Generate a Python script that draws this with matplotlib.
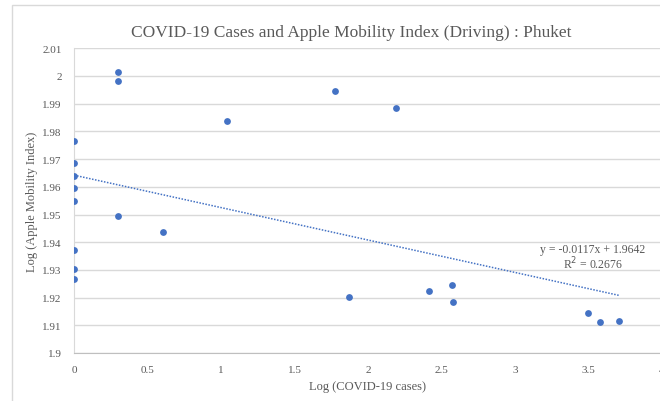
import matplotlib
matplotlib.use("Agg")
import matplotlib.pyplot as plt
from matplotlib.patches import Rectangle
from matplotlib.ticker import FuncFormatter, MultipleLocator
import numpy as np

# Log10 of COVID-19 cases vs log10 of Apple mobility (driving), Phuket
log_cases = [0, 0, 0, 0, 0, 0, 0, 0,
             0.301, 0.301, 0.301, 0.602, 1.043,
             1.778, 1.871, 2.193, 2.416, 2.570, 2.581,
             3.496, 3.578, 3.711]
log_mobility = [1.9767, 1.9687, 1.9640, 1.9596, 1.9548, 1.9371, 1.9303, 1.9266,
                2.0013, 1.9983, 1.9494, 1.9437, 1.9838,
                1.9946, 1.9201, 1.9886, 1.9224, 1.9244, 1.9184,
                1.9143, 1.9111, 1.9117]

# trendline as reported on the chart
slope = -0.0117
intercept = 1.9642
r_squared = 0.2676

blue = "#4472C4"
grey_text = "#595959"
font = "Liberation Serif"

fig = plt.figure(figsize=(6.6, 4.02), dpi=100)

# outer chart border (the screenshot is cropped at right and bottom)
fig.patches.append(Rectangle((12 / 660, -0.05), 1.2, 0.985 + 0.05,
                             transform=fig.transFigure, fill=False,
                             edgecolor="#d9d9d9", linewidth=1.0))

ax = fig.add_axes([74.1 / 660, 48 / 402, 587.6 / 660, 304.7 / 402])

ax.scatter(log_cases, log_mobility, s=24, color=blue, zorder=3, linewidths=0)

x_fit = np.array([0, max(log_cases)])
ax.plot(x_fit, slope * x_fit + intercept, color=blue, linestyle=(0, (1, 1)),
        linewidth=1.1, zorder=2)

ax.set_xlim(0, 4)
ax.set_ylim(1.9, 2.01)
ax.xaxis.set_major_locator(MultipleLocator(0.5))
ax.yaxis.set_major_locator(MultipleLocator(0.01))
ax.xaxis.set_major_formatter(FuncFormatter(lambda v, p: f"{v:g}"))
ax.yaxis.set_major_formatter(FuncFormatter(lambda v, p: f"{round(v, 2):g}"))

ax.grid(axis="y", color="#d9d9d9", linewidth=1.0)
ax.set_axisbelow(True)
for side in ["top", "right"]:
    ax.spines[side].set_visible(False)
ax.spines["left"].set_color("#d9d9d9")
ax.spines["bottom"].set_color("#bfbfbf")
ax.tick_params(length=0, labelsize=8, labelcolor=grey_text)
ax.tick_params(axis="x", pad=9)
ax.tick_params(axis="y", pad=9)
for lbl in ax.get_xticklabels() + ax.get_yticklabels():
    lbl.set_fontfamily(font)

ax.set_xlabel("Log (COVID-19 cases)", fontsize=9, color=grey_text,
              family=font, labelpad=4)
ax.set_ylabel("Log (Apple Mobility Index)", fontsize=9, color=grey_text,
              family=font, labelpad=4)
ax.yaxis.set_label_coords(-38 / 587.6 + 0.0, 0.5)
ax.yaxis.label.set_position((0, 0.5))
ax.yaxis.set_label_coords((38 - 74.1) / 587.6, 0.5)

fig.text(351 / 660, 1 - 33 / 402,
         "COVID-19 Cases and Apple Mobility Index (Driving) : Phuket",
         ha="center", va="center", fontsize=12.5, color=grey_text, family=font)

ax.text(3.53, 1.9345,
        f"y = {slope}x + {intercept}\nR$^2$ = {r_squared}",
        ha="center", va="center", fontsize=8.5, color=grey_text, family=font,
        linespacing=1.0)

fig.savefig("out.png", dpi=100)
